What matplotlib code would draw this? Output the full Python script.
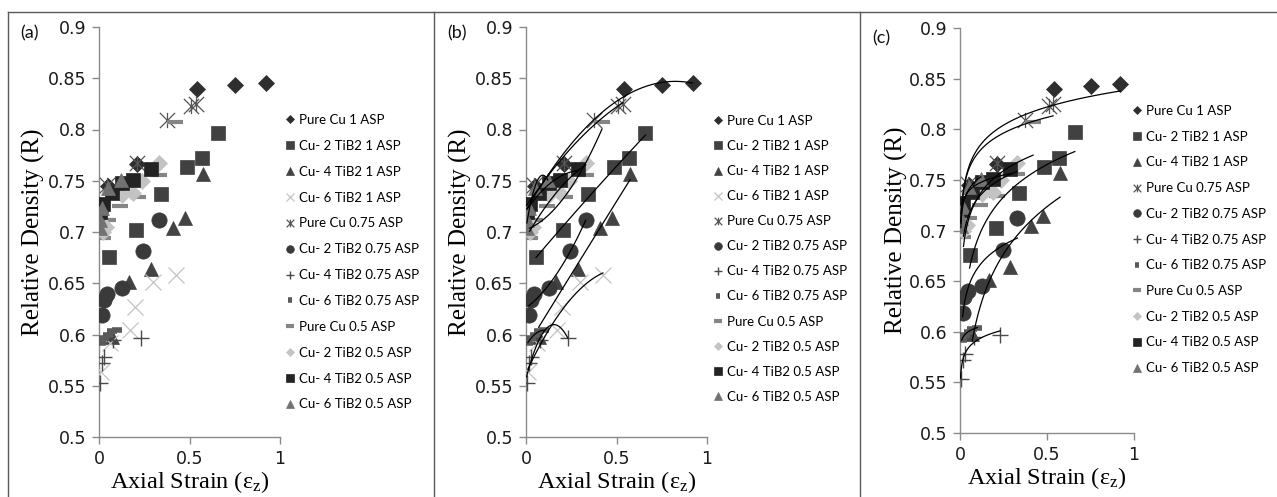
import numpy as np
import matplotlib
matplotlib.use("Agg")
import matplotlib.pyplot as plt
from matplotlib.lines import Line2D
from matplotlib.path import Path

# ---- data (axial strain vs relative density) ----
labels = [
    "Pure Cu 1 ASP", "Cu- 2 TiB2 1 ASP", "Cu- 4 TiB2 1 ASP", "Cu- 6 TiB2 1 ASP",
    "Pure Cu 0.75 ASP", "Cu- 2 TiB2 0.75 ASP", "Cu- 4 TiB2 0.75 ASP",
    "Cu- 6 TiB2 0.75 ASP", "Pure Cu 0.5 ASP", "Cu- 2 TiB2 0.5 ASP",
    "Cu- 4 TiB2 0.5 ASP", "Cu- 6 TiB2 0.5 ASP",
]

pure_1_x = [0.005, 0.05, 0.21, 0.54, 0.75, 0.92]
pure_1_r = [0.72, 0.745, 0.766, 0.84, 0.843, 0.845]
tib2_2_1_x = [0.055, 0.205, 0.34, 0.485, 0.57, 0.66]
tib2_2_1_r = [0.676, 0.702, 0.737, 0.763, 0.772, 0.797]
tib2_4_1_x = [0.07, 0.165, 0.285, 0.41, 0.475, 0.575]
tib2_4_1_r = [0.598, 0.651, 0.664, 0.704, 0.714, 0.757]
tib2_6_1_x = [0.01, 0.06, 0.17, 0.2, 0.30, 0.425]
tib2_6_1_r = [0.563, 0.592, 0.604, 0.627, 0.651, 0.658]
pure_075_x = [0.005, 0.045, 0.21, 0.375, 0.51, 0.535]
pure_075_r = [0.72, 0.746, 0.767, 0.809, 0.823, 0.825]
tib2_2_075_x = [0.015, 0.025, 0.045, 0.125, 0.245, 0.33]
tib2_2_075_r = [0.619, 0.634, 0.64, 0.645, 0.681, 0.712]
tib2_4_075_x = [0.003, 0.015, 0.03, 0.08, 0.23]
tib2_4_075_r = [0.553, 0.572, 0.578, 0.595, 0.597]
tib2_6_075_x = [0.01, 0.03, 0.05, 0.07, 0.1]
tib2_6_075_r = [0.592, 0.597, 0.6, 0.603, 0.604]
pure_05_x = [0.02, 0.05, 0.115, 0.215, 0.33, 0.42]
pure_05_r = [0.694, 0.712, 0.725, 0.734, 0.756, 0.807]
tib2_2_05_x = [0.02, 0.04, 0.125, 0.19, 0.235, 0.33]
tib2_2_05_r = [0.70, 0.705, 0.736, 0.738, 0.75, 0.767]
tib2_4_05_x = [0.005, 0.02, 0.07, 0.125, 0.19, 0.29]
tib2_4_05_r = [0.72, 0.727, 0.738, 0.748, 0.751, 0.761]
tib2_6_05_x = [0.005, 0.006, 0.015, 0.05, 0.12]
tib2_6_05_r = [0.704, 0.712, 0.723, 0.743, 0.751]

series_x = [pure_1_x, tib2_2_1_x, tib2_4_1_x, tib2_6_1_x, pure_075_x, tib2_2_075_x,
            tib2_4_075_x, tib2_6_075_x, pure_05_x, tib2_2_05_x, tib2_4_05_x, tib2_6_05_x]
series_r = [pure_1_r, tib2_2_1_r, tib2_4_1_r, tib2_6_1_r, pure_075_r, tib2_2_075_r,
            tib2_4_075_r, tib2_6_075_r, pure_05_r, tib2_2_05_r, tib2_4_05_r, tib2_6_05_r]

# excel style asterisk: an x with a vertical bar through it
star = Path([(0, -1), (0, 1), (-1, -1), (1, 1), (-1, 1), (1, -1)],
            [Path.MOVETO, Path.LINETO] * 3)

# marker style per series: (marker, size, colour, edge width)
styles = [
    ("D", 8, "#2e2e2e", 0.5),
    ("s", 10.5, "#414141", 0.5),
    ("^", 10.5, "#434343", 0.5),
    ("x", 11, "#c4c4c4", 0.9),
    (star, 11, "#555555", 0.9),
    ("o", 11, "#3a3a3a", 0.5),
    ("+", 12, "#4a4a4a", 1.0),
    ("_", 7, "#5a5a5a", 4.0),
    ("_", 12, "#858585", 3.0),
    ("D", 8, "#c3c3c3", 0.5),
    ("s", 10.5, "#232323", 0.5),
    ("^", 10.5, "#727272", 0.5),
]

W, H = 1277, 497
plt.rcParams["font.family"] = ["Lato", "DejaVu Sans"]
plt.rcParams["mathtext.fontset"] = "custom"
plt.rcParams["mathtext.rm"] = "Liberation Serif"
plt.rcParams["mathtext.it"] = "Liberation Serif:italic"

fig = plt.figure(figsize=(W / 100, H / 100), dpi=100)


def px_axes(left, right, top, bottom):
    return fig.add_axes([left / W, 1 - bottom / H, (right - left) / W, (bottom - top) / H])


def style_axes(ax):
    ax.set_xlim(0, 1)
    ax.set_ylim(0.5, 0.9)
    ax.set_xticks([0, 0.5, 1])
    ax.set_xticklabels(["0", "0.5", "1"])
    yt = np.round(np.arange(0.5, 0.901, 0.05), 2)
    ax.set_yticks(yt)
    ax.set_yticklabels([("%g" % v) for v in yt])
    for s in ("top", "right"):
        ax.spines[s].set_visible(False)
    for s in ("left", "bottom"):
        ax.spines[s].set_color("#8a8a8a")
        ax.spines[s].set_linewidth(1.0)
    ax.tick_params(axis="both", direction="out", length=5, width=1.0,
                   color="#8a8a8a", labelsize=12.5, labelcolor="#1a1a1a", pad=4)
    for t in ax.get_xticklabels() + ax.get_yticklabels():
        t.set_family("DejaVu Sans")
    ax.set_ylabel("Relative Density (R)", family="Liberation Serif", fontsize=18)
    ax.set_xlabel(r"Axial Strain ($\mathregular{\varepsilon_z}$)",
                  family="Liberation Serif", fontsize=17.5, labelpad=1)
    ax.yaxis.set_label_coords(-0.30, 0.5)


def draw_points(ax, idx):
    handles = []
    for i in idx:
        m, ms, c, mew = styles[i]
        filled = isinstance(m, str) and m not in ("x", "+", "_")
        h, = ax.plot(series_x[i], series_r[i], linestyle="none", marker=m, markersize=ms,
                     color=c, markerfacecolor=c if filled else "none",
                     markeredgecolor=c, markeredgewidth=mew, label=labels[i], zorder=3)
        handles.append(h)
    return handles


def add_legend(ax, handles, left, top, spacing):
    ax.legend(handles=handles, loc="upper left", bbox_to_anchor=(left / W, 1 - top / H),
              bbox_transform=fig.transFigure, frameon=False, fontsize=9.5,
              handlelength=0.6, handletextpad=0.35, borderpad=0, borderaxespad=0,
              labelspacing=spacing, markerscale=0.5, numpoints=1)


all_idx = list(range(12))

# (a) points only
ax_a = px_axes(99, 280, 27, 437)
style_axes(ax_a)
h = draw_points(ax_a, all_idx)
add_legend(ax_a, h, 286, 114, 1.05)

# (b) quadratic trendlines
ax_b = px_axes(526, 707, 27, 437)
style_axes(ax_b)
h = draw_points(ax_b, all_idx)
for i in all_idx:
    x = np.array(series_x[i])
    r = np.array(series_r[i])
    coef = np.polyfit(x, r, 2)
    xs = np.linspace(x.min(), x.max(), 120)
    ax_b.plot(xs, np.polyval(coef, xs), color="black", lw=0.9, zorder=4)
add_legend(ax_b, h, 714, 115, 0.99)

# (c) logarithmic trendlines, no Cu-6 TiB2 1 ASP
idx_c = [i for i in all_idx if i != 3]
ax_c = px_axes(960, 1134, 28, 433)
style_axes(ax_c)
h = draw_points(ax_c, idx_c)
for i in idx_c:
    x = np.array(series_x[i])
    r = np.array(series_r[i])
    coef = np.polyfit(np.log(x), r, 1)
    xs = np.linspace(x.min(), x.max(), 200)
    ax_c.plot(xs, np.polyval(coef, np.log(xs)), color="black", lw=0.9, zorder=4)
add_legend(ax_c, h, 1133, 105, 1.04)

# panel letters
for txt, xp, yp in (("(a)", 20, 33), ("(b)", 447, 33), ("(c)", 872, 38)):
    fig.text(xp / W, 1 - yp / H, txt, fontsize=13, va="center", ha="left", color="#111111")

# panel frames
frame = dict(color="#5a5a5a", lw=1.0, transform=fig.transFigure)
fig.add_artist(Line2D([8 / W, 1], [1 - 12 / H, 1 - 12 / H], **frame))
for xp in (8, 434, 860):
    fig.add_artist(Line2D([xp / W, xp / W], [0, 1 - 12 / H], **frame))

fig.savefig("out.png", dpi=100)
